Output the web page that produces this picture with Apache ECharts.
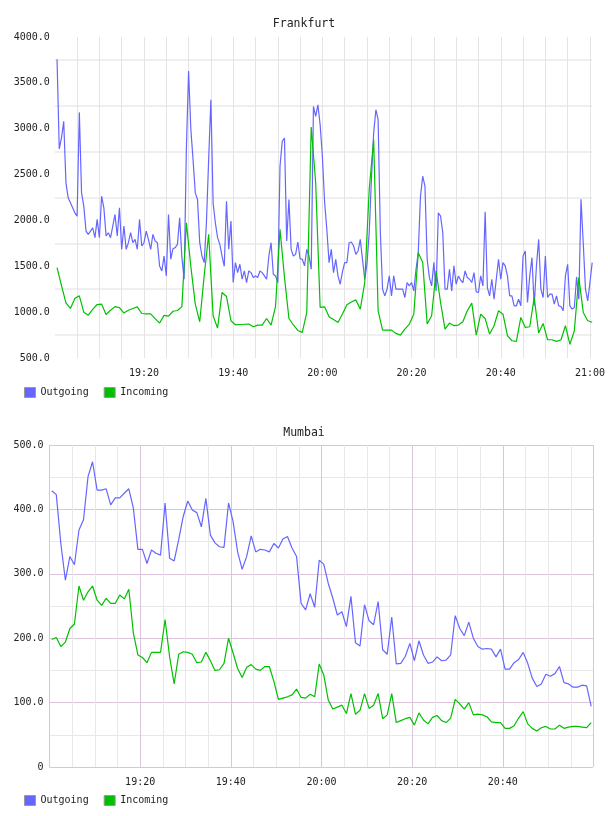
<!DOCTYPE html>
<html>
<head>
<meta charset="utf-8">
<script src="https://cdn.jsdelivr.net/npm/echarts@6/dist/echarts.min.js"></script>
<style>
  html, body { margin: 0; padding: 0; background: #fff; }
  #main { width: 608px; height: 816px; }
</style>
</head>
<body>
<div id="main"></div>
<script>
// minutes after 19:00
const fraOutStart = 0.5, fraOutStep = 0.5;
const fraInStart = 0.5, fraInStep = 1;
const mumStart = 0.5, mumStep = 1;

// Frankfurt, one value every 30 s
const fraOutgoing = [
  3757, 2780, 2900, 3080, 2410, 2246, 2192, 2138, 2083, 2047,
  3178, 2301, 2156, 1884, 1848, 1884, 1920, 1812, 2011, 1812,
  2264, 2138, 1830, 1866, 1812, 1939, 2065, 1830, 2138, 1685,
  1939, 1685, 1757, 1866, 1757, 1793, 1685, 2011, 1721, 1757,
  1884, 1793, 1685, 1848, 1775, 1757, 1504, 1449, 1612, 1395,
  2065, 1576, 1692, 1703, 1739, 2029, 1594, 1359, 2772, 3630,
  3000, 2663, 2301, 2228, 1757, 1612, 1540, 1975, 2663, 3315,
  2192, 1975, 1812, 1739, 1612, 1500, 2210, 1685, 1993, 1323,
  1540, 1431, 1522, 1359, 1449, 1323, 1449, 1431, 1377, 1395,
  1377, 1449, 1431, 1395, 1359, 1612, 1757, 1413, 1395, 1323,
  2591, 2862, 2899, 1775, 2228, 1685, 1612, 1630, 1765, 1583,
  1576, 1504, 1685, 1612, 1467, 3243, 3134, 3261, 3043, 2699,
  2200, 1902, 1540, 1685, 1431, 1576, 1395, 1304, 1438, 1540,
  1540, 1757, 1765, 1721, 1630, 1667, 1793, 1576, 1359, 1522,
  1866, 2450, 2953, 3207, 3098, 1866, 1250, 1178, 1250, 1395,
  1178, 1395, 1250, 1250, 1250, 1250, 1160, 1323, 1286, 1323,
  1232, 1467, 1649, 2264, 2482, 2373, 1576, 1377, 1286, 1540,
  1232, 2083, 2047, 1866, 1250, 1250, 1467, 1232, 1504, 1304,
  1395, 1350, 1323, 1449, 1377, 1359, 1323, 1431, 1221, 1214,
  1395, 1286, 2094, 1268, 1178, 1359, 1141, 1359, 1576, 1359,
  1540, 1504, 1395, 1178, 1178, 1069, 1069, 1141, 1069, 1612,
  1667, 1105, 1395, 1594, 1069, 1504, 1793, 1250, 1160, 1612,
  1160, 1196, 1196, 1087, 1178, 1069, 1062, 1015, 1395, 1522,
  1069, 1033, 1051, 1384, 1141, 2230, 1750, 1250, 1123, 1323,
  1540
];

// Frankfurt, one value a minute
const fraIncoming = [
  1486, 1290, 1100, 1040, 1150, 1178, 1000, 967, 1030, 1083,
  1087, 975, 1020, 1060, 1050, 990, 1020, 1040, 1058, 985,
  982, 982, 930, 881, 965, 957, 1010, 1018, 1060, 1975,
  1500, 1087, 895, 1400, 1848, 960, 826, 1214, 1170, 906,
  862, 865, 868, 870, 841, 859, 859, 931, 859, 1062,
  1902, 1380, 931, 860, 800, 779, 997, 3018, 2410, 1051,
  1058, 950, 920, 888, 980, 1080, 1110, 1134, 1033, 1323,
  2337, 2880, 1015, 804, 804, 804, 768, 750, 815, 870,
  978, 1649, 1540, 870, 960, 1449, 1105, 815, 881, 852,
  859, 895, 1015, 1098, 750, 978, 931, 761, 852, 1015,
  978, 743, 688, 681, 942, 833, 841, 1160, 772, 877,
  699, 699, 681, 696, 852, 649, 797, 1377, 997, 906,
  890
];

// Mumbai, one value a minute
const mumOutgoing = [
  429, 423, 347, 290, 327, 314, 368, 384, 451, 474,
  430, 430, 432, 407, 418, 418, 425, 432, 402, 338,
  338, 316, 337, 332, 329, 410, 324, 320, 353, 389,
  413, 399, 395, 373, 417, 360, 348, 342, 341, 410,
  381, 334, 307, 327, 359, 334, 338, 337, 334, 347,
  340, 354, 358, 340, 327, 254, 244, 269, 248, 321,
  315, 285, 262, 236, 241, 218, 265, 193, 188, 252,
  227, 221, 257, 182, 175, 233, 160, 161, 172, 192,
  165, 196, 174, 161, 163, 171, 165, 166, 174, 235,
  215, 204, 225, 200, 187, 183, 184, 183, 171, 183,
  152, 152, 162, 167, 178, 161, 138, 125, 129, 144,
  141, 145, 156, 131, 129, 124, 124, 127, 126, 94
];

const mumIncoming = [
  198, 201, 187, 194, 215, 222, 281, 259, 272, 281,
  259, 251, 262, 254, 254, 267, 261, 276, 208, 174,
  170, 162, 178, 178, 178, 229, 171, 129, 175, 179,
  178, 175, 162, 163, 178, 165, 150, 151, 161, 200,
  177, 153, 139, 155, 159, 152, 150, 156, 156, 133,
  105, 107, 109, 112, 121, 108, 107, 113, 109, 160,
  143, 104, 90, 93, 96, 83, 114, 82, 88, 114,
  91, 96, 114, 75, 81, 114, 69, 72, 75, 77,
  65, 84, 73, 67, 77, 80, 72, 69, 76, 105,
  98, 90, 100, 81, 82, 81, 78, 70, 69, 69,
  60, 60, 64, 76, 86, 67, 60, 56, 61, 63,
  59, 59, 65, 60, 62, 63, 63, 62, 61, 69
];

const blue = '#6666ff';
const green = '#00c000';
const font = 'DejaVu Sans Mono';

function pairs(values, start, step) {
  return values.map((v, i) => [start + i * step, v]);
}

function timeLabel(v) {
  if (v <= 0 || Math.abs(v % 20) > 1e-6) return '';
  const h = 19 + Math.floor(v / 60);
  const m = Math.round(v % 60);
  return h + ':' + (m < 10 ? '0' + m : m);
}

const chart = echarts.init(document.getElementById('main'), null, { renderer: 'canvas' });

const lineSeries = (name, color, data, idx) => ({
  name: name,
  type: 'line',
  xAxisIndex: idx,
  yAxisIndex: idx,
  data: data,
  showSymbol: false,
  symbol: 'none',
  itemStyle: { color: color },
  lineStyle: { color: color, width: 1.2 },
  emphasis: { disabled: true }
});

const legendBase = {
  data: ['Outgoing', 'Incoming'],
  icon: 'rect',
  left: 24,
  itemWidth: 11,
  itemHeight: 10,
  itemGap: 15,
  padding: 0,
  selectedMode: false,
  itemStyle: { borderColor: '#999', borderWidth: 1 },
  textStyle: { fontFamily: font, fontSize: 10, color: '#222' }
};

chart.setOption({
  animation: false,
  title: [
    { text: 'Frankfurt', left: 'center', top: 13,
      textStyle: { fontFamily: font, fontSize: 11.5, fontWeight: 'normal', color: '#222' } },
    { text: 'Mumbai', left: 'center', top: 422,
      textStyle: { fontFamily: font, fontSize: 11.5, fontWeight: 'normal', color: '#222' } }
  ],
  legend: [
    Object.assign({ top: 387 }, legendBase),
    Object.assign({ top: 795 }, legendBase)
  ],
  grid: [
    { left: 54.8, right: 15, top: 37, height: 321 },
    { left: 49.5, right: 15, top: 445, height: 322 }
  ],
  xAxis: [
    {
      gridIndex: 0, type: 'value', min: 0, max: 120.5, interval: 5,
      axisLine: { show: false }, axisTick: { show: false },
      axisLabel: { formatter: timeLabel, fontFamily: font, fontSize: 10, color: '#222', margin: 10 },
      splitLine: { show: true, showMinLine: false, showMaxLine: false,
        lineStyle: { color: '#e4e4e4', width: 1 } }
    },
    {
      gridIndex: 1, type: 'value', min: 0, max: 119.9, interval: 20,
      axisLine: { show: false }, axisTick: { show: false },
      axisLabel: { formatter: timeLabel, fontFamily: font, fontSize: 10, color: '#222', margin: 10 },
      splitLine: { show: true, lineStyle: { color: '#dcc3dc', width: 1 } },
      minorTick: { show: false, splitNumber: 4 },
      minorSplitLine: { show: true, lineStyle: { color: '#e8e8e8', width: 1 } }
    }
  ],
  yAxis: [
    {
      gridIndex: 0, type: 'value', min: 500, max: 4000, interval: 500,
      axisLine: { show: false }, axisTick: { show: false },
      axisLabel: { formatter: v => v.toFixed(1), fontFamily: font, fontSize: 10, color: '#222', margin: 5 },
      splitLine: { show: false },
      minorTick: { show: false, splitNumber: 2 },
      minorSplitLine: { show: true, lineStyle: { color: '#efefef', width: 2 } }
    },
    {
      gridIndex: 1, type: 'value', min: 0, max: 500, interval: 100,
      axisLine: { show: false }, axisTick: { show: false },
      axisLabel: { formatter: v => (v === 0 ? '0' : v.toFixed(1)), fontFamily: font, fontSize: 10, color: '#222', margin: 6 },
      splitLine: { show: true, lineStyle: { color: '#dcc3dc', width: 1 } },
      minorTick: { show: false, splitNumber: 2 },
      minorSplitLine: { show: true, lineStyle: { color: '#e8e8e8', width: 1 } }
    }
  ],
  series: [
    lineSeries('Outgoing', blue, pairs(fraOutgoing, fraOutStart, fraOutStep), 0),
    lineSeries('Incoming', green, pairs(fraIncoming, fraInStart, fraInStep), 0),
    lineSeries('Outgoing', blue, pairs(mumOutgoing, mumStart, mumStep), 1),
    lineSeries('Incoming', green, pairs(mumIncoming, mumStart, mumStep), 1)
  ]
});
</script>
</body>
</html>
